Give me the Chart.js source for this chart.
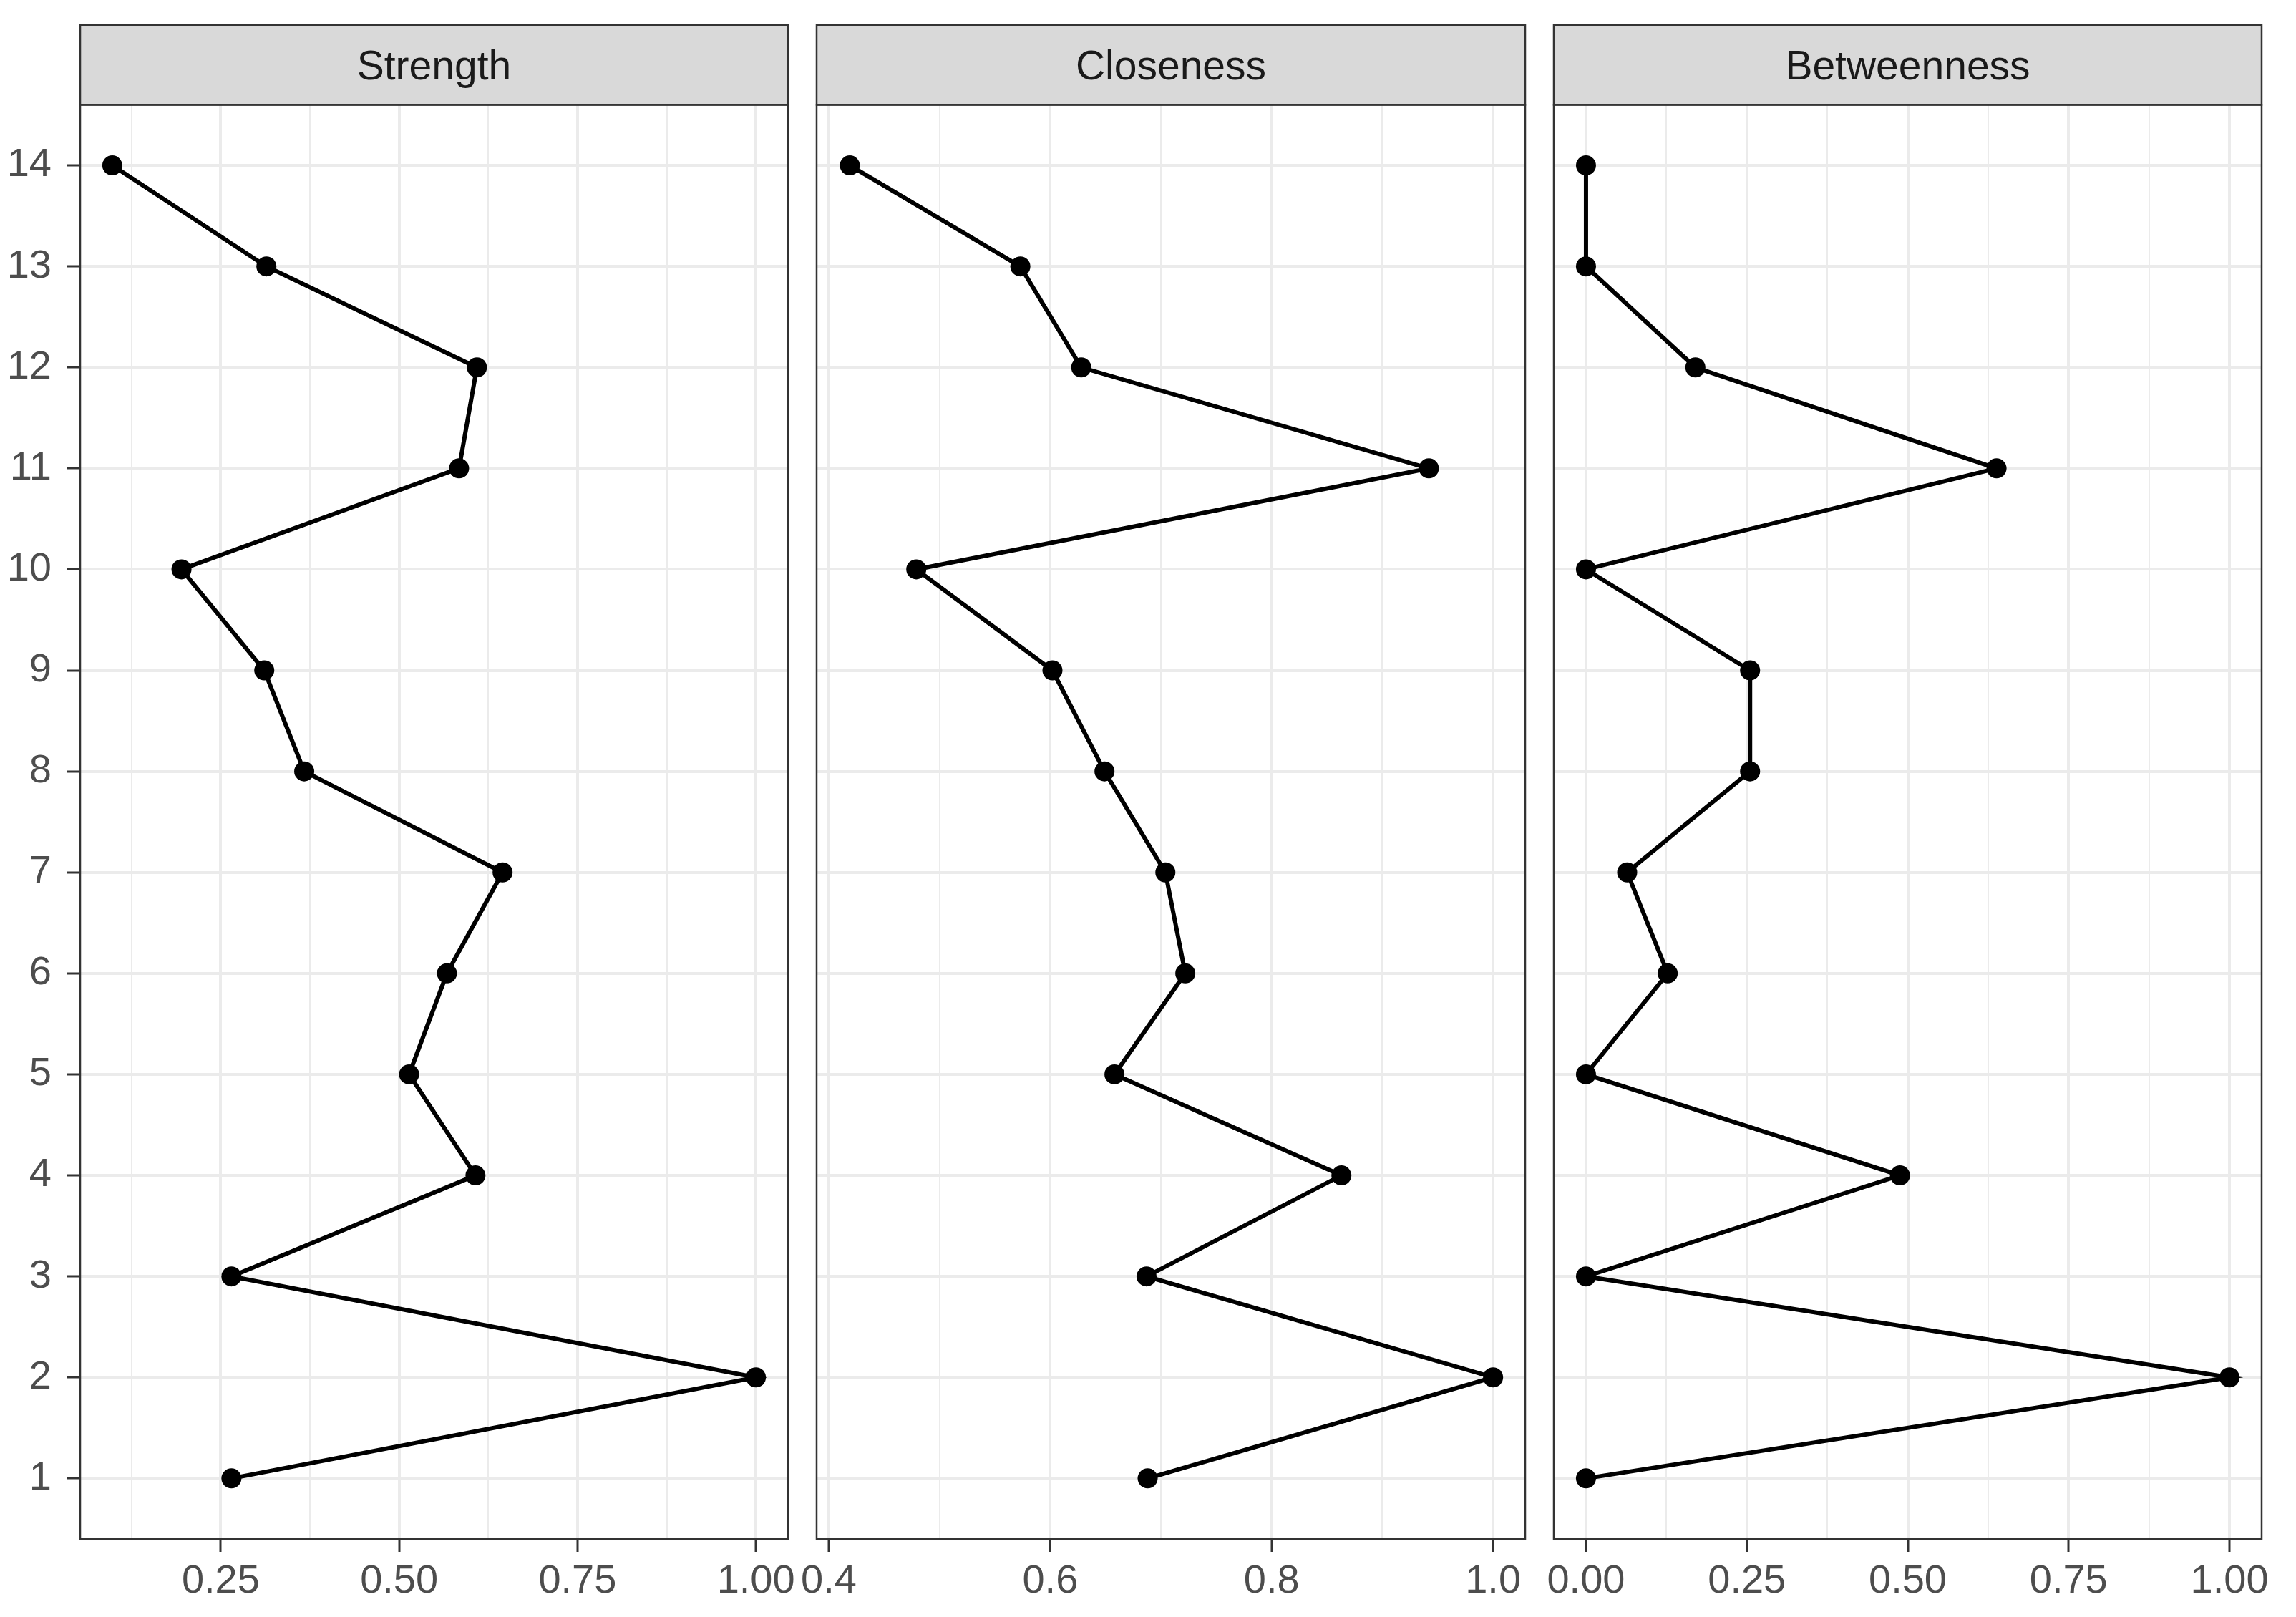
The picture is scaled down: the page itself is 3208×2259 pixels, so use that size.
<!DOCTYPE html>
<html>
<head>
<meta charset="utf-8">
<script src="https://cdn.jsdelivr.net/npm/chart.js@4"></script>
<style>
  body { margin: 0; background: #fff; }
  #wrap { position: relative; width: 3208px; height: 2259px; }
  canvas { position: absolute; left: 0; top: 0; }
</style>
</head>
<body>
<div id="wrap">
  <canvas id="strengthChart" width="3208" height="2259"></canvas>
  <canvas id="closenessChart" width="3208" height="2259"></canvas>
  <canvas id="betweennessChart" width="3208" height="2259"></canvas>
</div>
<script>
// node ids on the y axis
const nodes = [1, 2, 3, 4, 5, 6, 7, 8, 9, 10, 11, 12, 13, 14];

// centrality values, one per node
const strength = [0.265, 1.0, 0.265, 0.607, 0.514, 0.567, 0.645, 0.367, 0.311, 0.195, 0.584, 0.609, 0.314, 0.098];
const closeness = [0.688, 1.0, 0.687, 0.863, 0.658, 0.722, 0.704, 0.649, 0.602, 0.479, 0.942, 0.628, 0.573, 0.419];
const betweenness = [0, 1.0, 0, 0.488, 0, 0.127, 0.064, 0.255, 0.255, 0, 0.638, 0.170, 0, 0];

// x tick labels per panel
const strengthTicks = [0.25, 0.5, 0.75, 1.0];
const strengthLabels = ['0.25', '0.50', '0.75', '1.00'];
const strengthMinor = [0.125, 0.375, 0.625, 0.875];

const closenessTicks = [0.4, 0.6, 0.8, 1.0];
const closenessLabels = ['0.4', '0.6', '0.8', '1.0'];
const closenessMinor = [0.5, 0.7, 0.9];

const betweennessTicks = [0, 0.25, 0.5, 0.75, 1.0];
const betweennessLabels = ['0.00', '0.25', '0.50', '0.75', '1.00'];
const betweennessMinor = [0.125, 0.375, 0.625, 0.875];

const W = 3208;
const STRIP_TOP = 35;
const FONT = "'Liberation Sans', Arial, sans-serif";

// grey facet strip above each panel + the panel frame
const stripPlugin = {
  id: 'strip',
  beforeDraw(chart) {
    const { ctx, chartArea } = chart;
    ctx.save();
    ctx.fillStyle = '#D9D9D9';
    ctx.fillRect(chartArea.left, STRIP_TOP, chartArea.width, chartArea.top - STRIP_TOP);
    ctx.restore();
  },
  afterDraw(chart) {
    const { ctx, chartArea } = chart;
    ctx.save();
    ctx.strokeStyle = '#333333';
    ctx.lineWidth = 2.5;
    ctx.strokeRect(chartArea.left, STRIP_TOP, chartArea.width, chartArea.top - STRIP_TOP);
    ctx.strokeRect(chartArea.left, chartArea.top, chartArea.width, chartArea.height);
    ctx.restore();
  },
};

function drawPanel(id, title, values, xMin, xMax, major, labels, minor, left, right, withY) {
  const allTicks = major.concat(minor).sort((a, b) => a - b);
  return new Chart(document.getElementById(id), {
    type: 'scatter',
    data: {
      datasets: [{
        data: nodes.map((n, i) => ({ x: values[i], y: n })),
        showLine: true,
        borderColor: '#000000',
        backgroundColor: '#000000',
        borderWidth: 6,
        pointRadius: 14,
        pointBorderWidth: 0,
      }],
    },
    options: {
      responsive: false,
      animation: false,
      events: [],
      layout: { padding: { left: withY ? 0 : left, right: W - right, top: STRIP_TOP, bottom: 0 } },
      plugins: {
        legend: { display: false },
        tooltip: { enabled: false },
        title: {
          display: true,
          text: title,
          fullSize: false,
          color: '#1A1A1A',
          font: { family: FONT, size: 57, weight: 'normal', lineHeight: 1.2 },
          padding: { top: 26, bottom: 17 },
        },
      },
      scales: {
        x: {
          type: 'linear',
          min: xMin,
          max: xMax,
          afterBuildTicks: (s) => { s.ticks = allTicks.map((v) => ({ value: v })); },
          afterFit: (s) => { s.height = 109; },
          ticks: {
            autoSkip: false,
            maxRotation: 0,
            color: '#4D4D4D',
            font: { family: FONT, size: 56 },
            padding: 8,
            callback: (v) => {
              const k = major.indexOf(v);
              return k >= 0 ? labels[k] : '';
            },
          },
          grid: {
            color: '#EBEBEB',
            lineWidth: (c) => (major.includes(c.tick.value) ? 4 : 2),
            tickColor: (c) => (major.includes(c.tick.value) ? '#333333' : 'rgba(0,0,0,0)'),
            tickLength: 18,
            tickWidth: 3,
          },
          border: { display: false },
        },
        y: {
          type: 'linear',
          min: 0.4,
          max: 14.6,
          afterBuildTicks: (s) => { s.ticks = nodes.map((v) => ({ value: v })); },
          afterFit: (s) => { s.width = withY ? left : 0; },
          ticks: {
            display: withY,
            color: '#4D4D4D',
            font: { family: FONT, size: 56 },
            padding: 22,
            callback: (v) => String(v),
          },
          grid: {
            color: '#EBEBEB',
            lineWidth: 4,
            drawTicks: withY,
            tickColor: '#333333',
            tickLength: 18,
            tickWidth: 3,
          },
          border: { display: false },
        },
      },
    },
    plugins: [stripPlugin],
  });
}

drawPanel('strengthChart', 'Strength', strength, 0.053, 1.045,
  strengthTicks, strengthLabels, strengthMinor, 112, 1101, true);
drawPanel('closenessChart', 'Closeness', closeness, 0.389, 1.029,
  closenessTicks, closenessLabels, closenessMinor, 1141, 2131, false);
drawPanel('betweennessChart', 'Betweenness', betweenness, -0.05, 1.05,
  betweennessTicks, betweennessLabels, betweennessMinor, 2171, 3160, false);
</script>
</body>
</html>
